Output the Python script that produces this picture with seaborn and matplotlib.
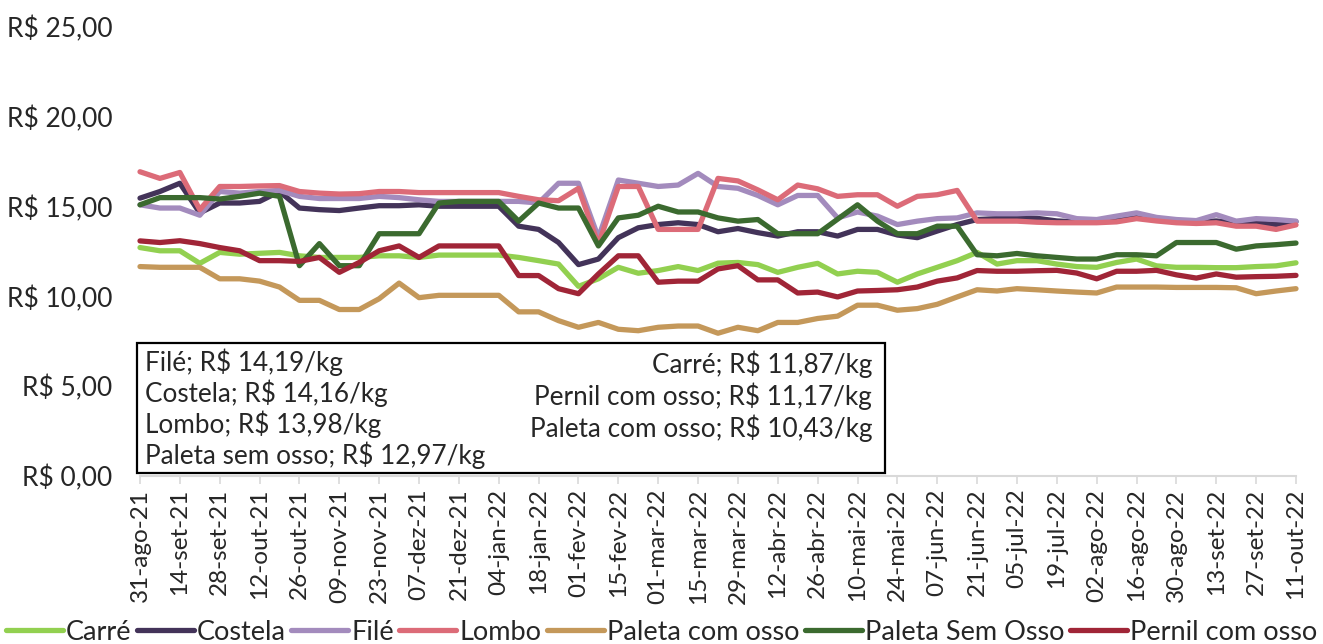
import pandas as pd
import matplotlib
matplotlib.use('Agg')
import matplotlib.pyplot as plt
import seaborn as sns
from matplotlib.patches import Rectangle

# semanas (terças-feiras) de 31-ago-21 a 11-out-22
semanas = pd.date_range('2021-08-31', '2022-10-11', freq='7D')

rotulos_x = ['31-ago-21', '14-set-21', '28-set-21', '12-out-21', '26-out-21', '09-nov-21',
             '23-nov-21', '07-dez-21', '21-dez-21', '04-jan-22', '18-jan-22', '01-fev-22',
             '15-fev-22', '01-mar-22', '15-mar-22', '29-mar-22', '12-abr-22', '26-abr-22',
             '10-mai-22', '24-mai-22', '07-jun-22', '21-jun-22', '05-jul-22', '19-jul-22',
             '02-ago-22', '16-ago-22', '30-ago-22', '13-set-22', '27-set-22', '11-out-22']

cortes = ['Carré', 'Costela', 'Filé', 'Lombo', 'Paleta com osso', 'Paleta Sem Osso', 'Pernil com osso']

carre = [12.72, 12.54, 12.54, 11.84, 12.45, 12.35, 12.40, 12.45, 12.26, 12.17, 12.17, 12.17, 12.26, 12.26, 12.17,
         12.30, 12.30, 12.30, 12.30, 12.17, 11.99, 11.80, 10.56, 10.98, 11.62, 11.29, 11.44, 11.66, 11.44, 11.85,
         11.89, 11.77, 11.34, 11.62, 11.84, 11.25, 11.40, 11.34, 10.79, 11.25, 11.62, 11.99, 12.45, 11.80,
         11.99, 11.99, 11.80, 11.66, 11.62, 11.89, 12.08, 11.70, 11.62, 11.62, 11.60, 11.60, 11.66, 11.70, 11.87]

costela = [15.47, 15.84, 16.30, 14.65, 15.20, 15.20, 15.29, 15.84, 14.92, 14.83, 14.78, 14.92, 15.05, 15.05, 15.10,
           15.02, 15.02, 15.02, 15.02, 13.91, 13.73, 13.00, 11.77, 12.08, 13.27, 13.82, 14.00, 14.10, 14.00, 13.60,
           13.78, 13.55, 13.36, 13.60, 13.60, 13.36, 13.73, 13.73, 13.42, 13.27, 13.64, 14.00, 14.28, 14.33,
           14.38, 14.35, 14.20, 14.15, 14.15, 14.35, 14.55, 14.30, 14.20, 14.15, 14.20, 14.10, 14.10, 14.00, 14.16]

file_ = [15.10, 14.92, 14.92, 14.52, 15.84, 15.75, 15.84, 15.90, 15.57, 15.45, 15.45, 15.45, 15.57, 15.50, 15.38,
         15.29, 15.29, 15.29, 15.29, 15.29, 15.20, 16.30, 16.30, 13.27, 16.48, 16.30, 16.12, 16.20, 16.85, 16.12,
         16.02, 15.62, 15.10, 15.62, 15.62, 14.37, 14.70, 14.47, 14.00, 14.19, 14.33, 14.37, 14.65, 14.60,
         14.60, 14.65, 14.60, 14.33, 14.28, 14.47, 14.65, 14.40, 14.28, 14.22, 14.55, 14.19, 14.33, 14.28, 14.19]

lombo = [16.94, 16.57, 16.90, 14.83, 16.12, 16.12, 16.15, 16.17, 15.84, 15.75, 15.70, 15.72, 15.84, 15.84, 15.78,
         15.78, 15.78, 15.78, 15.78, 15.57, 15.38, 15.33, 16.02, 12.90, 16.12, 16.12, 13.73, 13.73, 13.73, 16.57,
         16.43, 15.93, 15.38, 16.20, 15.99, 15.57, 15.66, 15.66, 15.02, 15.57, 15.66, 15.90, 14.19, 14.19,
         14.19, 14.13, 14.10, 14.10, 14.10, 14.15, 14.33, 14.20, 14.10, 14.06, 14.10, 13.91, 13.91, 13.73, 13.98]

paleta_com = [11.66, 11.62, 11.62, 11.62, 10.98, 10.98, 10.85, 10.52, 9.78, 9.78, 9.27, 9.27, 9.87, 10.74, 9.93,
              10.06, 10.06, 10.06, 10.06, 9.14, 9.14, 8.65, 8.28, 8.55, 8.17, 8.09, 8.28, 8.35, 8.35, 7.95,
              8.28, 8.09, 8.55, 8.55, 8.77, 8.90, 9.51, 9.51, 9.23, 9.32, 9.56, 9.97, 10.37, 10.30,
              10.43, 10.37, 10.30, 10.24, 10.19, 10.52, 10.52, 10.52, 10.50, 10.50, 10.50, 10.48, 10.15, 10.30, 10.43]

paleta_sem = [15.10, 15.50, 15.50, 15.50, 15.42, 15.57, 15.75, 15.57, 11.71, 12.94, 11.71, 11.71, 13.49, 13.49, 13.49,
              15.20, 15.29, 15.29, 15.29, 14.19, 15.20, 14.92, 14.92, 12.81, 14.37, 14.52, 15.02, 14.70, 14.70, 14.37,
              14.19, 14.28, 13.49, 13.49, 13.49, 14.30, 15.10, 14.19, 13.49, 13.49, 13.91, 13.91, 12.32, 12.26,
              12.39, 12.26, 12.17, 12.08, 12.08, 12.32, 12.32, 12.26, 13.00, 13.00, 13.00, 12.63, 12.81, 12.88, 12.97]

pernil = [13.09, 13.00, 13.10, 12.94, 12.72, 12.54, 11.99, 11.99, 11.95, 12.17, 11.34, 11.89, 12.54, 12.81, 12.17,
          12.81, 12.81, 12.81, 12.81, 11.16, 11.16, 10.43, 10.15, 11.25, 12.26, 12.26, 10.79, 10.85, 10.85, 11.53,
          11.71, 10.92, 10.92, 10.19, 10.24, 9.97, 10.30, 10.33, 10.37, 10.52, 10.85, 11.03, 11.44, 11.40,
          11.40, 11.43, 11.45, 11.30, 10.98, 11.40, 11.40, 11.45, 11.20, 11.02, 11.25, 11.07, 11.10, 11.12, 11.17]

cores = ['#92d050', '#433359', '#a38bbd', '#dc6b78', '#c4985a', '#3b6a2f', '#a02537']

textos_esq = ['Filé; R$ 14,19/kg', 'Costela; R$ 14,16/kg', 'Lombo; R$ 13,98/kg', 'Paleta sem osso; R$ 12,97/kg']
textos_dir = ['Carré; R$ 11,87/kg', 'Pernil com osso; R$ 11,17/kg', 'Paleta com osso; R$ 10,43/kg']

# montar tabela longa
df = pd.DataFrame({'semana': range(len(semanas)), 'Carré': carre, 'Costela': costela, 'Filé': file_,
                   'Lombo': lombo, 'Paleta com osso': paleta_com, 'Paleta Sem Osso': paleta_sem,
                   'Pernil com osso': pernil})
longo = df.melt(id_vars='semana', var_name='corte', value_name='preco')

sns.set_style('white')
plt.rcParams['font.family'] = ['Lato', 'DejaVu Sans']

fig = plt.figure(figsize=(13.23, 6.44), dpi=100)
ax = fig.add_axes([140 / 1323, 1 - 476 / 644, 1156 / 1323, 449 / 644])

sns.lineplot(data=longo, x='semana', y='preco', hue='corte', hue_order=cortes,
             palette=cores, linewidth=3.8, ax=ax, clip_on=False)

ax.set_xlim(0, len(semanas) - 1)
ax.set_ylim(0, 25)
ax.set_xlabel('')
ax.set_ylabel('')

ax.set_xticks(range(0, len(semanas), 2))
ax.set_xticklabels(rotulos_x, rotation=90, fontsize=17.5)
ax.set_yticks([0, 5, 10, 15, 20, 25])
ax.set_yticklabels([f'R$ {v},00' for v in [0, 5, 10, 15, 20, 25]], fontsize=19)
ax.tick_params(axis='x', length=6, width=1.2, color='#d9d9d9', pad=3, bottom=True)
ax.tick_params(axis='y', length=0, pad=20)

for lado in ['top', 'right', 'left']:
    ax.spines[lado].set_visible(False)
ax.spines['bottom'].set_color('#d9d9d9')
ax.spines['bottom'].set_linewidth(1.5)

# caixa com preços finais
fig.patches.append(Rectangle((137 / 1323, 1 - 473 / 644), 748 / 1323, 130 / 644,
                             transform=fig.transFigure, facecolor='white',
                             edgecolor='black', linewidth=1.6, zorder=5))
for i, t in enumerate(textos_esq):
    fig.text(145 / 1323, 1 - (362 + i * 31) / 644, t, fontsize=18.8, ha='left', va='center', zorder=6)
for i, t in enumerate(textos_dir):
    fig.text(872 / 1323, 1 - (364 + i * 32) / 644, t, fontsize=18.8, ha='right', va='center', zorder=6)

handles, labels = ax.get_legend_handles_labels()
ax.get_legend().remove()
fig.legend(handles, labels, loc='center', bbox_to_anchor=(0.5, 1 - 632 / 644), ncol=7,
           frameon=False, fontsize=19.5, handlelength=2.1, handletextpad=0.12, columnspacing=0.2)

fig.savefig('out.png', dpi=100)
